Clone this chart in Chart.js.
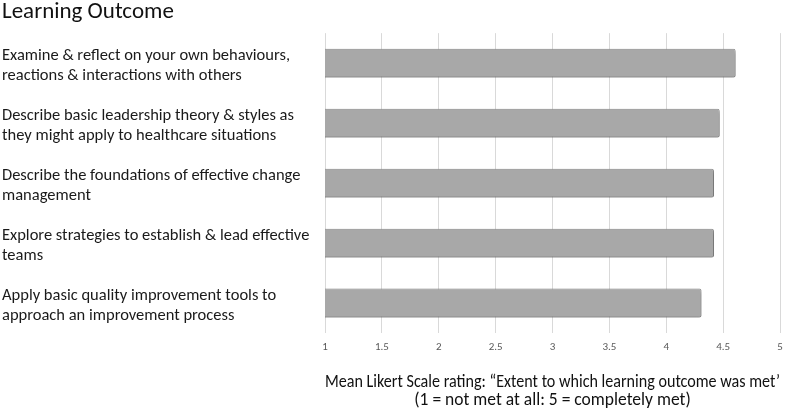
<!DOCTYPE html>
<html>
<head>
<meta charset="utf-8">
<script src="https://cdn.jsdelivr.net/npm/chart.js@4/dist/chart.umd.min.js"></script>
<style>
  html, body { margin: 0; padding: 0; background: #fff; }
  #wrap { width: 797px; height: 410px; }
</style>
</head>
<body>
<div id="wrap"><canvas id="c" width="797" height="410"></canvas></div>
<script>
// learning outcomes, top to bottom
const outcomes = [
  ['Examine & reflect on your own behaviours,', 'reactions & interactions with others'],
  ['Describe basic leadership theory & styles as', 'they might apply to healthcare situations'],
  ['Describe the foundations of effective change', 'management'],
  ['Explore strategies to establish & lead effective', 'teams'],
  ['Apply basic quality improvement tools to', 'approach an improvement process']
];
// mean likert rating per outcome
const meanRating = [4.61, 4.47, 4.42, 4.42, 4.31];
const tickValues = [1, 1.5, 2, 2.5, 3, 3.5, 4, 4.5, 5];

const FONT = 'Carlito, Calibri, Lato, "Liberation Sans", sans-serif';

// soft drop shadow under the bars
const barShadow = {
  id: 'barShadow',
  beforeDatasetsDraw(chart) {
    const ctx = chart.ctx;
    ctx.save();
    ctx.shadowColor = 'rgba(0,0,0,0.35)';
    ctx.shadowBlur = 4;
    ctx.shadowOffsetX = 1;
    ctx.shadowOffsetY = 2;
  },
  afterDatasetsDraw(chart) { chart.ctx.restore(); }
};

new Chart(document.getElementById('c'), {
  type: 'bar',
  data: {
    labels: outcomes,
    datasets: [{
      data: meanRating,
      backgroundColor: '#a8a8a8',
      borderColor: '#969696',
      borderWidth: 1,
      borderRadius: 2,
      borderSkipped: false,
      barPercentage: 0.96,
      categoryPercentage: 0.5
    }]
  },
  options: {
    indexAxis: 'y',
    responsive: false,
    devicePixelRatio: 1,
    animation: false,
    layout: { padding: { left: 2, right: 17, top: 0, bottom: 0 } },
    plugins: {
      legend: { display: false },
      tooltip: { enabled: false },
      title: {
        display: true,
        text: 'Learning Outcome',
        align: 'start',
        color: '#111',
        font: { family: FONT, size: 23, weight: 'normal', lineHeight: 1.05 },
        padding: { top: 0, bottom: 9 }
      }
    },
    scales: {
      x: {
        min: 1, max: 5,
        afterBuildTicks: s => { s.ticks = tickValues.map(v => ({ value: v })); },
        afterFit: s => { s.height = 77; },
        grid: { color: '#d9d9d9', lineWidth: 1, drawTicks: false },
        border: { display: false },
        ticks: {
          color: '#595959',
          font: { family: FONT, size: 11 },
          padding: 8,
          callback: v => String(v)
        },
        title: {
          display: true,
          text: ['Mean Likert Scale rating: \u201cExtent to which learning outcome was met\u2019', '(1 = not met at all: 5 = completely met)'],
          color: '#111',
          font: { family: FONT, size: 17.5, lineHeight: 1.03 },
          padding: { top: 0, bottom: 0 }
        }
      },
      y: {
        grid: { display: false },
        border: { display: false },
        afterFit: s => { s.width = 323; },
        ticks: {
          crossAlign: 'far',
          labelOffset: 3,
          color: '#1a1a1a',
          font: { family: FONT, size: 16.5, lineHeight: 1.22 }
        }
      }
    }
  },
  plugins: [barShadow]
});
</script>
</body>
</html>
